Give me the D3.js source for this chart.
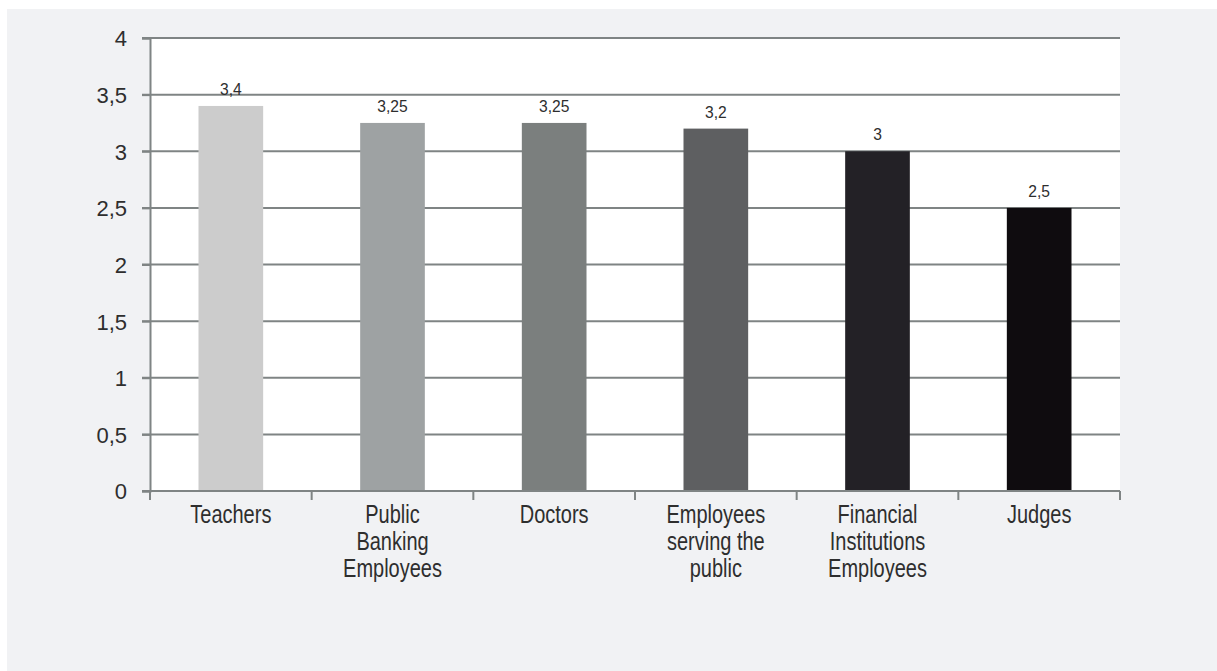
<!DOCTYPE html>
<html>
<head>
<meta charset="utf-8">
<script src="https://cdn.jsdelivr.net/npm/d3@7"></script>
<style>
  html, body { margin: 0; padding: 0; background: #ffffff; }
  svg text { font-family: "Liberation Sans", Arial, sans-serif; fill: #2e2e2e; }
</style>
</head>
<body>
<svg id="chart" width="1217" height="671"></svg>
<script>
// categories (each label already split in lines as in the picture)
var categories = ["Teachers", "Public Banking Employees", "Doctors", "Employees serving the public", "Financial Institutions Employees", "Judges"];
var labelLines = [
  ["Teachers"],
  ["Public", "Banking", "Employees"],
  ["Doctors"],
  ["Employees", "serving the", "public"],
  ["Financial", "Institutions", "Employees"],
  ["Judges"]
];
var values = [3.4, 3.25, 3.25, 3.2, 3, 2.5];
var barColors = ["#cccccc", "#9ea2a3", "#7b7f7e", "#5e5f61", "#232126", "#0f0c0f"];
var yTicks = [0, 0.5, 1, 1.5, 2, 2.5, 3, 3.5, 4];

var svg = d3.select("#chart");
var fmt = function(v){ return String(v).replace(".", ","); };

var plotLeft = 150, plotRight = 1120, plotTop = 38, plotBottom = 491;

// panel background
svg.append("rect")
  .attr("x", 7).attr("y", 9)
  .attr("width", 1210).attr("height", 662)
  .attr("fill", "#f1f2f4");

// plot area
svg.append("rect")
  .attr("x", plotLeft).attr("y", plotTop)
  .attr("width", plotRight - plotLeft).attr("height", plotBottom - plotTop)
  .attr("fill", "#ffffff");

var xScale = d3.scaleBand()
  .domain(categories)
  .range([plotLeft, plotRight])
  .paddingInner(0.6)
  .paddingOuter(0.3);

var yScale = d3.scaleLinear()
  .domain([0, 4])
  .range([plotBottom, plotTop]);

// gridlines
svg.append("g")
  .selectAll("line")
  .data(yTicks.filter(function(d){ return d > 0; }))
  .enter()
  .append("line")
  .attr("x1", plotLeft - 8).attr("x2", plotRight)
  .attr("y1", function(d){ return yScale(d); })
  .attr("y2", function(d){ return yScale(d); })
  .attr("stroke", "#7f8484")
  .attr("stroke-width", 2);

// bars
svg.append("g")
  .selectAll("rect")
  .data(values)
  .enter()
  .append("rect")
  .attr("x", function(d, i){ return xScale(categories[i]); })
  .attr("y", function(d){ return yScale(d); })
  .attr("width", xScale.bandwidth())
  .attr("height", function(d){ return yScale(0) - yScale(d); })
  .attr("fill", function(d, i){ return barColors[i]; });

// value labels
svg.append("g")
  .selectAll("text")
  .data(values)
  .enter()
  .append("text")
  .attr("transform", function(d, i){
    return "translate(" + (xScale(categories[i]) + xScale.bandwidth() / 2) + "," + (yScale(d) - 11) + ") scale(0.92,1)";
  })
  .attr("text-anchor", "middle")
  .style("font-size", "17px")
  .text(function(d){ return fmt(d); });

// y axis
var yAxis = svg.append("g")
  .attr("transform", "translate(" + plotLeft + ",0)")
  .call(d3.axisLeft(yScale).tickValues(yTicks).tickSize(8).tickPadding(15).tickFormat(fmt));
yAxis.select(".domain").attr("stroke", "#7f8484").attr("stroke-width", 2);
yAxis.selectAll(".tick line").attr("stroke", "#7f8484").attr("stroke-width", 2);
yAxis.selectAll(".tick text")
  .style("font-size", "22px")
  .style("font-family", null)
  .attr("fill", "#2e2e2e")
  .attr("dy", "0.36em");

// x axis baseline and category boundary ticks
var step = xScale.step();
var bounds = d3.range(categories.length + 1).map(function(i){ return plotLeft + i * step; });
svg.append("line")
  .attr("x1", plotLeft - 8).attr("x2", plotRight)
  .attr("y1", plotBottom).attr("y2", plotBottom)
  .attr("stroke", "#7f8484").attr("stroke-width", 2);
svg.append("g")
  .selectAll("line")
  .data(bounds)
  .enter()
  .append("line")
  .attr("x1", function(d){ return d; }).attr("x2", function(d){ return d; })
  .attr("y1", plotBottom).attr("y2", plotBottom + 9)
  .attr("stroke", "#7f8484").attr("stroke-width", 2);

// category labels (narrowed sans, like the condensed face of the original)
var labels = svg.append("g")
  .selectAll("text")
  .data(labelLines)
  .enter()
  .append("text")
  .attr("transform", function(d, i){
    return "translate(" + (xScale(categories[i]) + xScale.bandwidth() / 2) + "," + (plotBottom + 32) + ") scale(0.8,1)";
  })
  .attr("text-anchor", "middle")
  .style("font-size", "25px");
labels.each(function(lines){
  var t = d3.select(this);
  lines.forEach(function(l, j){
    t.append("tspan").attr("x", 0).attr("dy", j === 0 ? 0 : 27).text(l);
  });
});
</script>
</body>
</html>
